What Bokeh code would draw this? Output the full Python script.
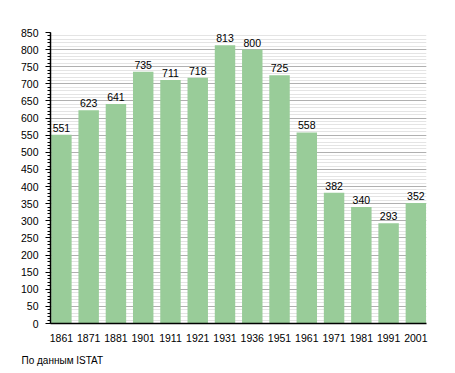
from bokeh.plotting import figure
from bokeh.models import (ColumnDataSource, Range1d, FixedTicker, SingleIntervalTicker,
                          Title, LabelSet)
from bokeh.core.properties import value
from bokeh.embed import file_html
from bokeh.resources import INLINE

years = ["1861", "1871", "1881", "1901", "1911", "1921", "1931",
         "1936", "1951", "1961", "1971", "1981", "1991", "2001"]
population = [551, 623, 641, 735, 711, 718, 813, 800, 725, 558, 382, 340, 293, 352]
footer = "По данным ISTAT"

FONT = "Liberation Sans"
xs = list(range(len(years)))
src = ColumnDataSource(dict(x=xs, y=population, lbl=[str(v) for v in population]))

p = figure(width=450, height=373, output_backend="svg", toolbar_location=None,
           x_range=Range1d(-0.4, 13.39), y_range=Range1d(0, 850),
           min_border_left=50, min_border_right=24, min_border_top=32, min_border_bottom=10)
p.outline_line_color = None
p.background_fill_color = "white"

p.vbar(x="x", top="y", width=0.75, source=src, fill_color="#99cc99", line_color=None)

labels = LabelSet(x="x", y="y", text="lbl", source=src, text_align="center",
                  text_baseline="bottom", y_offset=3, text_font=value(FONT),
                  text_font_size=value("10.5px"), text_color="black")
p.add_layout(labels)

# x axis
p.xaxis.ticker = FixedTicker(ticks=xs)
p.xaxis.major_label_overrides = {i: y for i, y in enumerate(years)}
p.xaxis.major_tick_line_color = None
p.xaxis.minor_tick_line_color = None
p.xaxis.axis_line_color = "black"
p.xaxis.axis_line_width = 1.5
p.xaxis.major_label_standoff = 4
p.xaxis.major_label_text_font = FONT
p.xaxis.major_label_text_font_size = "10.5px"
p.xaxis.major_label_text_color = "black"
p.xgrid.grid_line_color = None

# y axis
yt = SingleIntervalTicker(interval=50, num_minor_ticks=5)
p.yaxis.ticker = yt
p.yaxis.axis_line_color = "black"
p.yaxis.axis_line_width = 1.5
p.yaxis.major_tick_line_color = "black"
p.yaxis.major_tick_out = 5
p.yaxis.major_tick_in = 0
p.yaxis.minor_tick_line_color = "black"
p.yaxis.minor_tick_out = 3
p.yaxis.minor_tick_in = 0
p.yaxis.major_label_standoff = 7
p.yaxis.major_label_text_font = FONT
p.yaxis.major_label_text_font_size = "10.5px"
p.yaxis.major_label_text_color = "black"

p.ygrid.ticker = yt
p.ygrid.grid_line_color = "#b0b0b0"
p.ygrid.minor_grid_line_color = "#e4e4e4"
p.ygrid.level = "underlay"

p.add_layout(Title(text=footer, align="left", offset=-29, standoff=16,
                   text_font=FONT, text_font_size="10px", text_font_style="normal",
                   text_color="black"), "below")

open("out.html", "w").write(file_html(p, INLINE))
